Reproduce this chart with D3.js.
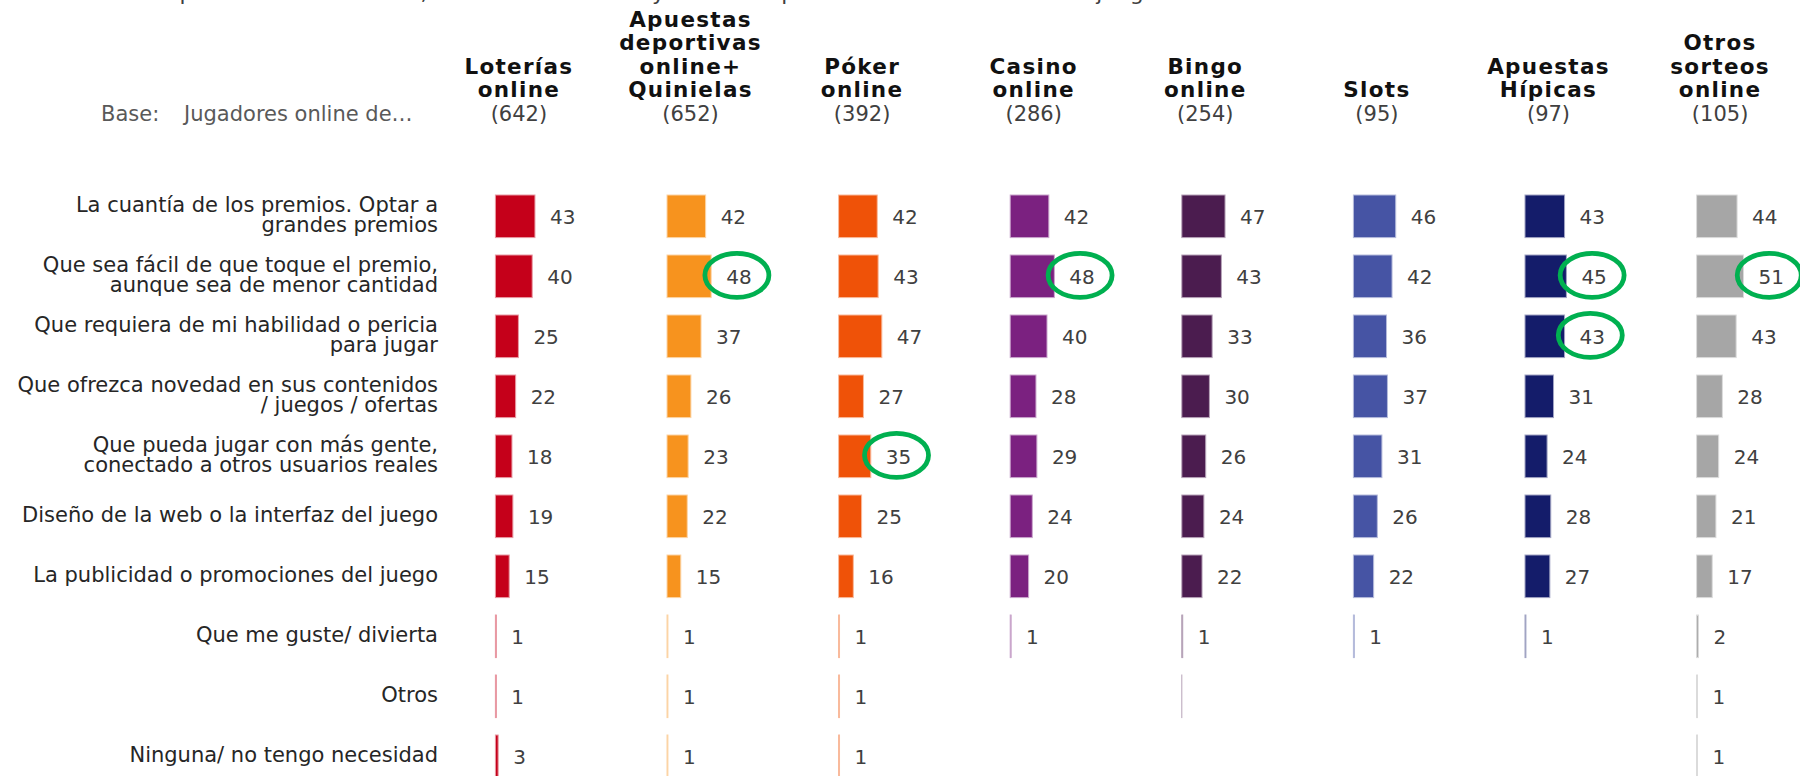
<!DOCTYPE html>
<html>
<head>
<meta charset="utf-8">
<script src="https://cdn.jsdelivr.net/npm/d3@7"></script>
<style>
  body { margin: 0; background: #ffffff; }
  text { font-family: "DejaVu Sans", Verdana, sans-serif; }
</style>
</head>
<body>
<div id="chart"></div>
<script>
// Set dimensions for the page
const width = 1800;
const height = 776;

// Title (only its lower part shows at the top edge)
const title = "Aspectos más valorados, en cada modalidad y en cada tipo de oferta de los distintos juegos";

// Row labels, "|" splits the two lines
const reasons = [
  "La cuantía de los premios. Optar a|grandes premios",
  "Que sea fácil de que toque el premio,|aunque sea de menor cantidad",
  "Que requiera de mi habilidad o pericia|para jugar",
  "Que ofrezca novedad en sus contenidos|/ juegos / ofertas",
  "Que pueda jugar con más gente,|conectado a otros usuarios reales",
  "Diseño de la web o la interfaz del juego",
  "La publicidad o promociones del juego",
  "Que me guste/ divierta",
  "Otros",
  "Ninguna/ no tengo necesidad"
];

// Column headers and base sizes
const games = [
  "Loterías|online",
  "Apuestas|deportivas|online+|Quinielas",
  "Póker|online",
  "Casino|online",
  "Bingo|online",
  "Slots",
  "Apuestas|Hípicas",
  "Otros|sorteos|online"
];
const bases = [642, 652, 392, 286, 254, 95, 97, 105];

// Percentages per game (null = no answer shown)
const loterias  = [43, 40, 25, 22, 18, 19, 15, 1, 1, 3];
const apuestas  = [42, 48, 37, 26, 23, 22, 15, 1, 1, 1];
const poker     = [42, 43, 47, 27, 35, 25, 16, 1, 1, 1];
const casino    = [42, 48, 40, 28, 29, 24, 20, 1, null, null];
const bingo     = [47, 43, 33, 30, 26, 24, 22, 1, 0, null];
const slots     = [46, 42, 36, 37, 31, 26, 22, 1, null, null];
const hipicas   = [43, 45, 43, 31, 24, 28, 27, 1, null, null];
const otros     = [44, 51, 43, 28, 24, 21, 17, 2, 1, 1];
const series = [loterias, apuestas, poker, casino, bingo, slots, hipicas, otros];

// Cells marked with a green circle: [game index, reason index]
const circled = [[1, 1], [2, 4], [3, 1], [6, 1], [6, 2], [7, 1]];

const colors = ["#c5001a", "#f7931e", "#ef5208", "#7b2180", "#4b1c4f", "#4654a4", "#141c6a", "#a6a6a6"];

const svg = d3.select("#chart")
  .append("svg")
  .attr("width", width)
  .attr("height", height)
  .attr("viewBox", [0, 0, width, height]);

// column start of each game
const xCol = d3.scaleBand()
  .domain(d3.range(games.length))
  .range([495.4, 495.4 + 171.6 * games.length])
  .paddingInner(0)
  .paddingOuter(0);

// bar length in px for a percentage
const xVal = d3.scaleLinear()
  .domain([0, 100])
  .range([0, 92]);

// rows
const yRow = d3.scaleBand()
  .domain(d3.range(reasons.length))
  .range([195, 195 + 60 * (reasons.length - 0.29)])
  .paddingInner(0.29)
  .paddingOuter(0);

const rowMid = (r) => yRow(r) + yRow.bandwidth() / 2;
const headMid = 23.5;

// title, cut at the top edge
svg.append("text")
  .attr("x", 153)
  .attr("y", 0)
  .attr("font-size", "22px")
  .attr("fill", "#404040")
  .text(title);

// headers
games.forEach((g, i) => {
  const lines = g.split("|");
  const t = svg.append("text")
    .attr("text-anchor", "middle")
    .attr("font-size", "21.5px")
    .attr("font-weight", "bold")
    .attr("letter-spacing", "1.3px")
    .attr("fill", "#111111");
  lines.forEach((l, k) => {
    t.append("tspan")
      .attr("x", xCol(i) + headMid)
      .attr("y", 96.7 - (lines.length - 1 - k) * 23.2)
      .text(l);
  });
  svg.append("text")
    .attr("x", xCol(i) + headMid)
    .attr("y", 120.5)
    .attr("text-anchor", "middle")
    .attr("font-size", "21px")
    .attr("fill", "#404040")
    .text(`(${bases[i]})`);
});

// base line
svg.append("text")
  .attr("x", 101)
  .attr("y", 120.5)
  .attr("font-size", "21px")
  .attr("fill", "#595959")
  .text("Base:");
svg.append("text")
  .attr("x", 184)
  .attr("y", 120.5)
  .attr("font-size", "21px")
  .attr("fill", "#595959")
  .text("Jugadores online de…");

// row labels
reasons.forEach((r, i) => {
  const lines = r.split("|");
  const t = svg.append("text")
    .attr("text-anchor", "end")
    .attr("font-size", "21px")
    .attr("fill", "#262626");
  lines.forEach((l, k) => {
    t.append("tspan")
      .attr("x", 438)
      .attr("y", rowMid(i) + 5.5 + (k - (lines.length - 1) / 2) * 20)
      .text(l);
  });
});

// bars, values and circles per game
series.forEach((vals, i) => {
  const g = svg.append("g");
  const cells = vals.map((v, r) => ({v: v, r: r})).filter(d => d.v !== null);

  g.selectAll("rect")
    .data(cells)
    .enter()
    .append("rect")
      .attr("x", xCol(i))
      .attr("y", d => yRow(d.r))
      .attr("width", d => Math.max(xVal(d.v), 0.01))
      .attr("height", yRow.bandwidth())
      .attr("fill", colors[i])
      .attr("stroke", d3.interpolateRgb(colors[i], "#ffffff")(0.6))
      .attr("stroke-width", 1);

  const labels = g.selectAll("text")
    .data(cells.filter(d => d.v > 0))
    .enter()
    .append("text")
      .attr("x", d => xCol(i) + xVal(d.v) + 15)
      .attr("y", d => rowMid(d.r) + 7.3)
      .attr("font-size", "20px")
      .attr("fill", "#404040")
      .text(d => d.v);

  labels.each(function(d) {
    if (!circled.some(c => c[0] === i && c[1] === d.r)) return;
    const w = this.getComputedTextLength();
    g.append("ellipse")
      .attr("cx", xCol(i) + xVal(d.v) + 15 + w / 2 - 2)
      .attr("cy", rowMid(d.r) - 1)
      .attr("rx", 32)
      .attr("ry", 22)
      .attr("fill", "none")
      .attr("stroke", "#00b050")
      .attr("stroke-width", 4.8);
  });
});
</script>
</body>
</html>
